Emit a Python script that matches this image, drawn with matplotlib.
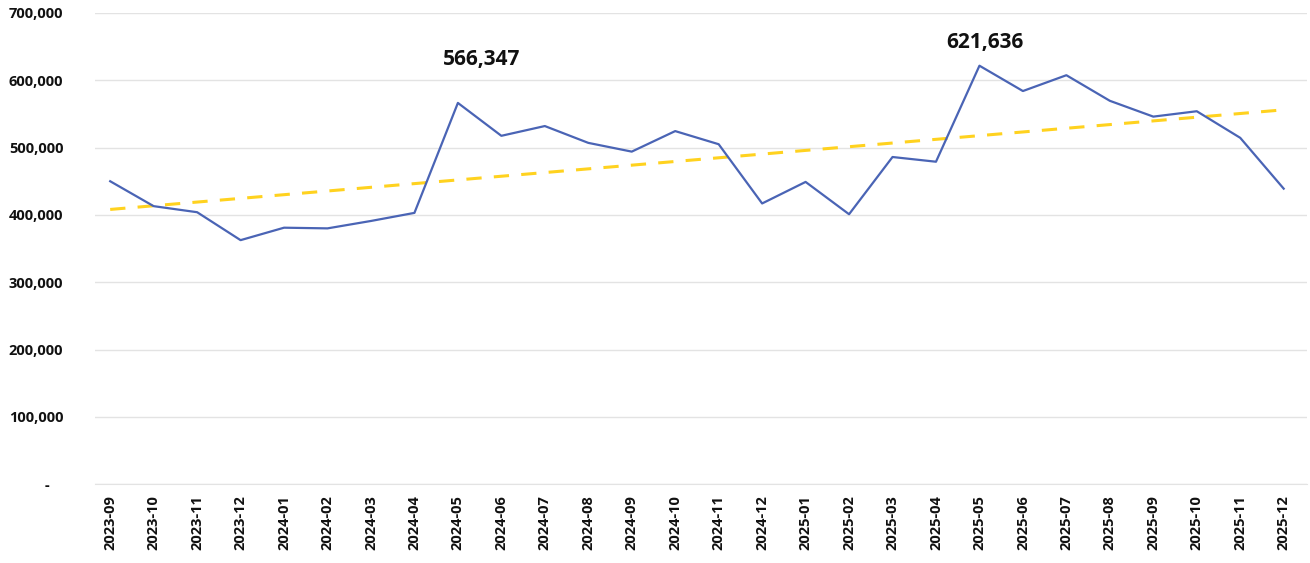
import numpy as np
import matplotlib.pyplot as plt
import matplotlib.transforms as mtransforms
from matplotlib.ticker import FuncFormatter

# 月份與數值
months = [
    "2023-09", "2023-10", "2023-11", "2023-12",
    "2024-01", "2024-02", "2024-03", "2024-04", "2024-05", "2024-06",
    "2024-07", "2024-08", "2024-09", "2024-10", "2024-11", "2024-12",
    "2025-01", "2025-02", "2025-03", "2025-04", "2025-05", "2025-06",
    "2025-07", "2025-08", "2025-09", "2025-10", "2025-11", "2025-12",
]
values = [
    450000, 413000, 404000, 362500,
    381000, 380000, 391000, 403000, 566347, 517500,
    532000, 507000, 494000, 524500, 505000, 417000,
    449000, 401000, 486000, 479000, 621636, 584000,
    607500, 569500, 546000, 554000, 514500, 439000,
]
# 要標示的高點
peak_labels = ["2024-05", "2025-05"]

y_ticks = [0, 100000, 200000, 300000, 400000, 500000, 600000, 700000]

LINE_COLOR = "#4A64B5"
TREND_COLOR = "#FFD21F"
TEXT_COLOR = "#111111"

# 標籤位移 (points)
LABEL_OFFSETS = {"2024-05": (17, 31), "2025-05": (4, 17)}


def fmt_y(v, pos):
    if v == 0:
        return "-"
    return f"{int(v):,}"


def main():
    plt.rcParams["font.family"] = ["Open Sans", "DejaVu Sans"]

    fig = plt.figure(figsize=(13.10, 5.63), dpi=100)
    ax = fig.add_axes([0.0725, 0.14, 0.925, 0.837])

    x = np.arange(len(months))
    y = np.array(values, dtype=float)

    # 線性趨勢線
    k, b = np.polyfit(x, y, 1)
    ax.plot(x, k * x + b, color=TREND_COLOR, linewidth=2.2,
            linestyle=(0, (5, 4)), zorder=2)

    ax.plot(x, y, color=LINE_COLOR, linewidth=1.6, zorder=3)

    for m in peak_labels:
        i = months.index(m)
        ax.annotate(f"{values[i]:,}", (x[i], y[i]), xytext=LABEL_OFFSETS[m],
                    textcoords="offset points", ha="center", va="center",
                    fontsize=15, fontweight="bold", color=TEXT_COLOR)

    ax.set_ylim(0, 700000)
    ax.set_yticks(y_ticks)
    ax.yaxis.set_major_formatter(FuncFormatter(fmt_y))
    ax.set_xlim(-0.35, len(months) - 0.47)
    ax.set_xticks(x)
    ax.set_xticklabels(months, rotation=90)

    ax.grid(axis="y", color="#E3E3E3", linewidth=1)
    ax.set_axisbelow(True)
    for side in ["top", "right", "left"]:
        ax.spines[side].set_visible(False)
    ax.spines["bottom"].set_color("#E3E3E3")
    ax.tick_params(axis="both", length=0, labelsize=10.5, colors=TEXT_COLOR)
    ax.tick_params(axis="y", pad=62)
    ax.tick_params(axis="x", pad=8)
    for lab in ax.get_xticklabels() + ax.get_yticklabels():
        lab.set_fontweight("bold")
    for lab in ax.get_yticklabels():
        lab.set_horizontalalignment("left")

    # 0 的 "-" 位置偏右（會計格式）
    shift = mtransforms.ScaledTranslation(0.36, 0, fig.dpi_scale_trans)
    zero_lab = ax.get_yticklabels()[0]
    zero_lab.set_transform(zero_lab.get_transform() + shift)

    fig.savefig("out.png", dpi=100)
    plt.close(fig)


if __name__ == "__main__":
    main()
